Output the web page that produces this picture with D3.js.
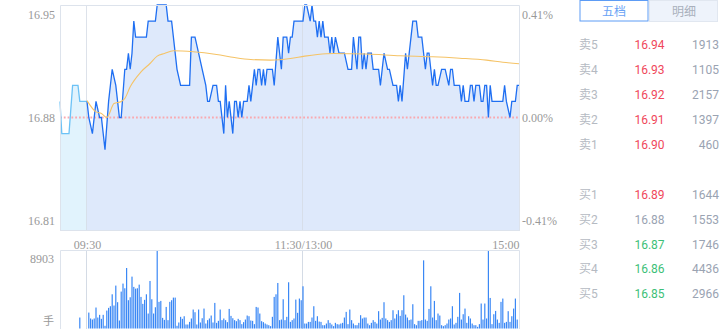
<!DOCTYPE html>
<html>
<head>
<meta charset="utf-8">
<script src="https://cdn.jsdelivr.net/npm/d3@7"></script>
<style>
body { margin: 0; background: #fff; }
svg { display: block; }
</style>
</head>
<body>
<svg id="chart" width="720" height="329"></svg>
<script>
var prevClose = 16.88;
var priceRange = [16.81, 16.95];
var volMax = 8903;
var timeTicks = [0, 120, 240];
var timeLabels = ["09:30", "11:30/13:00", "15:00"];

// [minute from 09:30, price]; negative minutes = pre-open
var preLine = [[-15, 16.89], [-14, 16.87], [-10, 16.87], [-8, 16.90], [-5, 16.90], [-4, 16.89], [0, 16.89]];

var priceLine = [
  [0, 16.89], [1, 16.88], [3, 16.87], [5, 16.89], [7, 16.88], [8, 16.88], [10, 16.86], [12, 16.89],
  [14, 16.91], [16, 16.90], [18, 16.88], [19, 16.88], [21, 16.91], [22, 16.91], [23, 16.92], [24, 16.91],
  [25, 16.92], [26, 16.94], [27, 16.93], [33, 16.93], [34, 16.94], [38, 16.94], [39, 16.95], [44, 16.95],
  [45, 16.94], [47, 16.94], [48, 16.93], [50, 16.91], [52, 16.90], [57, 16.90], [58, 16.93], [60, 16.93],
  [62, 16.92], [64, 16.91], [66, 16.90], [67, 16.89], [68, 16.89], [70, 16.90], [72, 16.90], [73, 16.89],
  [74, 16.89], [76, 16.87], [77, 16.90], [78, 16.88], [79, 16.89], [81, 16.87], [82, 16.89], [83, 16.89],
  [84, 16.88], [85, 16.89], [86, 16.88], [87, 16.89], [89, 16.89], [90, 16.90], [91, 16.89], [92, 16.90],
  [93, 16.91], [94, 16.90], [95, 16.91], [96, 16.91], [97, 16.90], [98, 16.91], [99, 16.90], [100, 16.91],
  [103, 16.91], [104, 16.90], [106, 16.93], [107, 16.92], [108, 16.91], [109, 16.93], [111, 16.93], [112, 16.92],
  [113, 16.93], [114, 16.93], [115, 16.94], [120, 16.94], [121, 16.95], [122, 16.95], [124, 16.94], [125, 16.95],
  [126, 16.94], [127, 16.94], [128, 16.93], [129, 16.94], [130, 16.93], [131, 16.94], [132, 16.93], [134, 16.93],
  [135, 16.92], [136, 16.93], [137, 16.92], [138, 16.93], [140, 16.92], [143, 16.92], [145, 16.91], [147, 16.91],
  [148, 16.93], [150, 16.91], [151, 16.93], [152, 16.93], [153, 16.91], [154, 16.92], [155, 16.91], [156, 16.92],
  [158, 16.92], [159, 16.91], [162, 16.91], [163, 16.90], [164, 16.91], [165, 16.92], [167, 16.91], [168, 16.91],
  [170, 16.90], [172, 16.90], [173, 16.89], [174, 16.90], [175, 16.89], [177, 16.92], [178, 16.91], [179, 16.92],
  [180, 16.93], [181, 16.94], [183, 16.94], [184, 16.93], [186, 16.93], [188, 16.91], [189, 16.92], [190, 16.92],
  [191, 16.91], [192, 16.90], [193, 16.91], [194, 16.90], [195, 16.90], [197, 16.91], [199, 16.91], [201, 16.90],
  [202, 16.91], [203, 16.91], [204, 16.90], [207, 16.90], [208, 16.89], [209, 16.90], [210, 16.89], [212, 16.89],
  [213, 16.90], [214, 16.90], [215, 16.89], [216, 16.90], [218, 16.90], [219, 16.89], [220, 16.89], [221, 16.90],
  [222, 16.90], [223, 16.88], [224, 16.90], [225, 16.89], [231, 16.89], [232, 16.90], [233, 16.89], [235, 16.88],
  [236, 16.89], [238, 16.89], [239, 16.90], [240, 16.90]
];

var avgLine = [
  [0, 16.8905], [5, 16.8835], [8, 16.8825], [11, 16.8800], [15, 16.8887], [19, 16.8900], [21, 16.8918],
  [24, 16.8991], [30, 16.9084], [35, 16.9136], [39, 16.9182], [43, 16.9198], [48, 16.9215], [59, 16.9209],
  [72, 16.9192], [82, 16.9173], [91, 16.9161], [102, 16.9157], [113, 16.9167], [121, 16.9182], [128, 16.9192],
  [137, 16.9198], [155, 16.9195], [174, 16.9184], [192, 16.9178], [207, 16.9169], [222, 16.9157], [231, 16.9144],
  [240, 16.9134]
];

var preVolume = [[-4, 1260]];
var volumes = [
  0, 1830, 1150, 1030, 1150, 2410, 1260, 1570, 1110, 1570, 310, 2060, 2370, 2560, 3930, 2640, 4930, 3020, 920, 4240,
  5160, 4620, 6950, 3250, 3590, 5960, 4780, 4580, 4620, 5040, 3630, 2830, 3290, 3930, 1720, 5460, 3360, 1720, 2440, 8903,
  3060, 3170, 1220, 990, 2480, 960, 3060, 3250, 3550, 3550, 310, 690, 1340, 1110, 1410, 460, 460, 760, 1150, 2180,
  1870, 460, 2180, 690, 1180, 2290, 570, 960, 1150, 1490, 690, 2940, 650, 880, 2180, 960, 1150, 960, 730, 2250,
  1450, 1180, 960, 840, 1110, 960, 500, 730, 1030, 1490, 1410, 920, 880, 500, 2480, 2410, 1720, 840, 730, 570,
  460, 380, 270, 1340, 3630, 3930, 5230, 960, 1030, 3360, 960, 1340, 5310, 760, 960, 1150, 3320, 1800, 3440, 3250,
  4850, 570, 570, 760, 760, 1260, 2560, 880, 1410, 800, 760, 380, 380, 570, 960, 650, 460, 270, 650, 500,
  460, 570, 650, 1260, 1910, 500, 2180, 960, 570, 380, 380, 650, 1530, 1150, 1260, 1260, 570, 380, 650, 960,
  760, 570, 1990, 1030, 1220, 3020, 1150, 960, 760, 960, 2100, 1150, 1640, 2100, 1450, 2100, 3820, 1600, 1260, 960,
  1030, 2790, 500, 380, 880, 880, 960, 7830, 1030, 880, 2250, 4850, 1260, 3170, 960, 1720, 1490, 380, 270, 380,
  570, 1030, 1150, 2560, 460, 650, 1340, 4090, 1030, 1640, 2290, 650, 1410, 1150, 570, 380, 380, 190, 500, 2870,
  1030, 2870, 1150, 8900, 3510, 500, 1640, 2020, 1030, 650, 3060, 3440, 650, 760, 1990, 760, 1410, 2290, 3440, 1030
];

var askNames = ["卖5", "卖4", "卖3", "卖2", "卖1"];
var askPrices = [16.94, 16.93, 16.92, 16.91, 16.90];
var askVols = [1913, 1105, 2157, 1397, 460];
var bidNames = ["买1", "买2", "买3", "买4", "买5"];
var bidPrices = [16.89, 16.88, 16.87, 16.86, 16.85];
var bidVols = [1644, 1553, 1746, 4436, 2966];

var svg = d3.select("#chart");
var serif = "'Liberation Serif', 'DejaVu Serif', serif";
var sans = "Roboto, 'Noto Sans CJK SC', sans-serif";

var x = d3.scaleLinear().domain([-15, 240]).range([60, 519]);
var y = d3.scaleLinear().domain(priceRange).range([230, 5]);
var yv = d3.scaleLinear().domain([0, volMax]).range([328.5, 251]);

// price pane
var area = function(d) {
  return d3.area().x(function(p) { return x(p[0]); }).y0(230).y1(function(p) { return y(p[1]); })(d);
};
var line = d3.line().x(function(p) { return x(p[0]); }).y(function(p) { return y(p[1]); });

svg.append("path").attr("d", area(preLine)).style("fill", "#e1f3fd");
svg.append("path").attr("d", area(priceLine)).style("fill", "#dee9fb");

svg.append("line")
  .attr("x1", 60).attr("x2", 519)
  .attr("y1", y(prevClose)).attr("y2", y(prevClose))
  .style("stroke", "#f9a9b0").style("stroke-width", 1.8)
  .style("stroke-dasharray", "1.8,2");

svg.selectAll(".grid")
  .data([0, 120])
  .enter().append("line")
  .attr("class", "grid")
  .attr("x1", function(d) { return Math.round(x(d)) - 0.5; })
  .attr("x2", function(d) { return Math.round(x(d)) - 0.5; })
  .attr("y1", 5).attr("y2", 230)
  .style("stroke", "#d4dbe5").style("stroke-opacity", 0.8);

svg.append("path").attr("d", line(preLine))
  .style("fill", "none").style("stroke", "#6cc2f6").style("stroke-width", 1.3);
svg.append("path").attr("d", line(priceLine))
  .style("fill", "none").style("stroke", "#1f6ff2").style("stroke-width", 1.3);
svg.append("path").attr("d", d3.line().curve(d3.curveMonotoneX)
    .x(function(p) { return x(p[0]); }).y(function(p) { return y(p[1]); })(avgLine))
  .style("fill", "none").style("stroke", "#f5c366").style("stroke-width", 1.1);

// frames
svg.append("path")
  .attr("d", "M60.5,230V5.5H519.5V230")
  .style("fill", "none").style("stroke", "#dde3ec");
svg.append("line").attr("x1", 60).attr("x2", 520).attr("y1", 230.5).attr("y2", 230.5)
  .style("stroke", "#dde3ec");

// price axes
var leftAxis = d3.axisLeft(y).tickValues([16.81, 16.88, 16.95]).tickSize(0).tickPadding(5)
  .tickFormat(d3.format(".2f"));
var gl = svg.append("g").attr("transform", "translate(60,0)").call(leftAxis);
var rightAxis = d3.axisRight(y).tickValues([16.81, 16.88, 16.95]).tickSize(0).tickPadding(4)
  .tickFormat(function(d) { return ((d - prevClose) / prevClose * 100).toFixed(2) + "%"; });
var gr = svg.append("g").attr("transform", "translate(519,0)").call(rightAxis);

[gl, gr].forEach(function(g) {
  g.select(".domain").remove();
  g.selectAll("text")
    .style("font-family", serif).style("font-size", "12px").style("fill", "#999")
    .attr("dy", function(d) { return d === 16.95 ? "1.15em" : d === 16.81 ? "-0.45em" : "0.35em"; });
});
gr.selectAll("text").attr("x", 3);

// time axis
var timeAxis = d3.axisTop(x).tickValues(timeTicks).tickSize(0).tickPadding(0)
  .tickFormat(function(d, i) { return timeLabels[i]; });
var gt = svg.append("g").attr("transform", "translate(0,249)").call(timeAxis);
gt.select(".domain").remove();
gt.selectAll("text")
  .style("font-family", serif).style("font-size", "12px").style("fill", "#999")
  .attr("dy", 0)
  .style("text-anchor", function(d) { return d === 240 ? "end" : "middle"; });

// volume pane
svg.selectAll(".vgrid")
  .data([0, 120])
  .enter().append("line")
  .attr("class", "vgrid")
  .attr("x1", function(d) { return Math.round(x(d)) - 0.5; })
  .attr("x2", function(d) { return Math.round(x(d)) - 0.5; })
  .attr("y1", 251).attr("y2", 329)
  .style("stroke", "#d4dbe5");

var volData = preVolume.concat(volumes.map(function(v, i) { return [i, v]; }));
svg.selectAll(".vol")
  .data(volData.filter(function(d) { return d[1] > 0; }))
  .enter().append("rect")
  .attr("class", "vol")
  .attr("x", function(d) { return x(d[0]) - 0.6; })
  .attr("width", 1.2)
  .attr("y", function(d) { return yv(d[1]); })
  .attr("height", function(d) { return yv(0) - yv(d[1]); })
  .style("fill", "#3b88f5");

svg.append("path")
  .attr("d", "M60.5,329V250.5H519.5V329")
  .style("fill", "none").style("stroke", "#dde3ec");

var volAxis = d3.axisLeft(yv).tickValues([volMax]).tickSize(0).tickPadding(6)
  .tickFormat(d3.format("d"));
var gv = svg.append("g").attr("transform", "translate(60,0)").call(volAxis);
gv.select(".domain").remove();
gv.selectAll("text")
  .style("font-family", serif).style("font-size", "12px").style("fill", "#999")
  .attr("dy", "0.95em");
svg.append("text")
  .attr("x", 54).attr("y", 325)
  .style("text-anchor", "end")
  .style("font-family", "'Noto Sans CJK SC', sans-serif").style("font-size", "11px").style("fill", "#999")
  .text("手");

// order book panel
var panel = svg.append("g");
panel.append("rect")
  .attr("x", 649.5).attr("y", 0.5).attr("width", 68).attr("height", 21)
  .style("fill", "#eef3fb").style("stroke", "#e1e7f0");
panel.append("rect")
  .attr("x", 580).attr("y", 0.5).attr("width", 68).attr("height", 20.5)
  .style("fill", "#fff").style("stroke", "#5d9cf5");
panel.append("text")
  .attr("x", 614).attr("y", 15.5)
  .style("text-anchor", "middle")
  .style("font-family", "'Noto Sans CJK SC', sans-serif").style("font-size", "12px").style("fill", "#6aa3f5")
  .text("五档");
panel.append("text")
  .attr("x", 684).attr("y", 15.5)
  .style("text-anchor", "middle")
  .style("font-family", "'Noto Sans CJK SC', sans-serif").style("font-size", "12px").style("fill", "#a9b0bc")
  .text("明细");

var rowY = d3.scaleLinear().domain([0, 1]).range([45, 70]);
var rows = askNames.map(function(n, i) { return { name: n, price: askPrices[i], vol: askVols[i], pos: i }; })
  .concat(bidNames.map(function(n, i) { return { name: n, price: bidPrices[i], vol: bidVols[i], pos: i + 6 }; }));

var priceColor = function(p) {
  if (Math.abs(p - prevClose) < 1e-6) return "#9aa3b2";
  return p > prevClose ? "#f0485b" : "#3dbf78";
};

var row = panel.selectAll(".row")
  .data(rows)
  .enter().append("g")
  .attr("class", "row")
  .attr("transform", function(d) { return "translate(0," + (rowY(d.pos) - d.pos / 6 * 0.5) + ")"; });

row.append("text")
  .attr("x", 579).attr("dy", "0.35em")
  .style("font-family", sans).style("font-size", "12px").style("fill", "#b5bac2")
  .text(function(d) { return d.name; });
row.append("text")
  .attr("x", 649.5).attr("dy", "0.35em")
  .style("text-anchor", "middle")
  .style("font-family", sans).style("font-size", "12px")
  .style("fill", function(d) { return priceColor(d.price); })
  .text(function(d) { return d.price.toFixed(2); });
row.append("text")
  .attr("x", 719).attr("dy", "0.35em")
  .style("text-anchor", "end")
  .style("font-family", sans).style("font-size", "12px").style("fill", "#9aa3b2")
  .text(function(d) { return d.vol; });
</script>
</body>
</html>
